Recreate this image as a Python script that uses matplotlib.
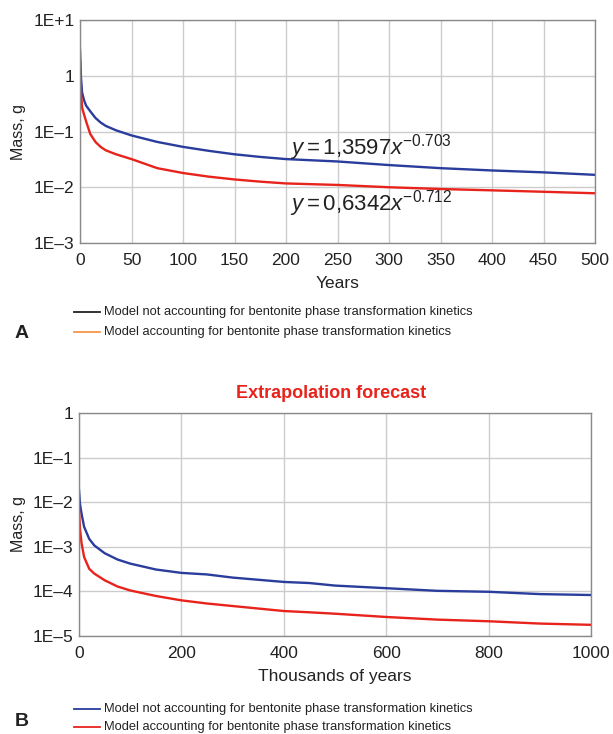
import matplotlib
matplotlib.use("Agg")
import matplotlib.pyplot as plt
from matplotlib.lines import Line2D
from matplotlib.ticker import FixedLocator, FixedFormatter, NullLocator

plt.rcParams['font.family'] = ['Liberation Sans', 'DejaVu Sans']
plt.rcParams['mathtext.fontset'] = 'custom'
plt.rcParams['mathtext.rm'] = 'Liberation Sans'
plt.rcParams['mathtext.it'] = 'Liberation Sans:italic'

# ---- Panel A data (years) ----
years_a = [0, 0.5, 1, 2, 4, 6, 10, 15, 20, 25, 35, 50, 75, 100, 125, 150, 175, 200,
           250, 300, 350, 400, 450, 500]
mass_a_no_kin = [2.9, 1.5, 0.9, 0.5, 0.36, 0.29, 0.23, 0.175, 0.145, 0.126, 0.105, 0.085,
                 0.065, 0.053, 0.045, 0.039, 0.035, 0.032, 0.029, 0.025, 0.022, 0.020,
                 0.0185, 0.0167]
mass_a_kin = [1.9, 1.0, 0.5, 0.27, 0.2, 0.15, 0.09, 0.065, 0.053, 0.046, 0.039, 0.032,
              0.022, 0.018, 0.0155, 0.0138, 0.0126, 0.0117, 0.011, 0.010, 0.0093, 0.0088,
              0.0083, 0.0078]
eq_no_kin = r"$y = 1{,}3597x^{-0.703}$"
eq_kin = r"$y = 0{,}6342x^{-0.712}$"

# ---- Panel B data (thousands of years) ----
kyears_b = [0, 2, 5, 10, 20, 30, 50, 75, 100, 150, 200, 250, 300, 400, 450, 500, 600,
            700, 800, 900, 1000]
mass_b_no_kin = [0.0185, 0.009, 0.0055, 0.0028, 0.0015, 0.00107, 0.00072, 0.00052, 0.00042,
                 0.00031, 0.00026, 0.00024, 0.000204, 0.000163, 0.000154, 0.000135,
                 0.000118, 0.000103, 0.000098, 0.000087, 0.000083]
mass_b_kin = [0.0066, 0.0025, 0.0012, 0.00059, 0.00032, 0.00025, 0.000178, 0.000129,
              0.000105, 0.000079, 0.000063, 0.0000535, 0.000047, 0.0000363, 0.000034,
              0.0000316, 0.0000267, 0.0000233, 0.0000214, 0.000019, 0.0000178]

yticks_a = [10, 1, 0.1, 0.01, 0.001]
yticklabels_a = ["1E+1", "1", "1E\u20131", "1E\u20132", "1E\u20133"]
xticks_a = [0, 50, 100, 150, 200, 250, 300, 350, 400, 450, 500]
yticks_b = [1, 0.1, 0.01, 0.001, 0.0001, 0.00001]
yticklabels_b = ["1", "1E\u20131", "1E\u20132", "1E\u20133", "1E\u20134", "1E\u20135"]
xticks_b = [0, 200, 400, 600, 800, 1000]

legend_labels = ["Model not accounting for bentonite phase transformation kinetics",
                 "Model accounting for bentonite phase transformation kinetics"]

BLUE = "#2a3c9c"
RED = "#e8231c"
GRID = "#cccccc"
SPINE = "#8a8a8a"
TXT = "#222222"

fig = plt.figure(figsize=(6.13, 7.34), dpi=100)
W, H = 613, 734


def style_axes(ax, xticks, yticks, yticklabels, xlim, ylim):
    ax.set_yscale('log')
    ax.set_xlim(*xlim)
    ax.set_ylim(*ylim)
    ax.yaxis.set_major_locator(FixedLocator(yticks))
    ax.yaxis.set_major_formatter(FixedFormatter(yticklabels))
    ax.yaxis.set_minor_locator(NullLocator())
    ax.set_xticks(xticks)
    ax.grid(True, color=GRID, linewidth=1.0)
    ax.set_axisbelow(True)
    for s in ax.spines.values():
        s.set_color(SPINE)
        s.set_linewidth(1.0)
    ax.tick_params(length=0, labelsize=12.5, colors=TXT)
    ax.tick_params(axis='x', pad=7)
    ax.tick_params(axis='y', pad=4)


# Panel A
axA = fig.add_axes([80 / W, 1 - 243 / H, 515 / W, 223 / H])
style_axes(axA, xticks_a, yticks_a, yticklabels_a, (0, 500), (0.001, 10))
axA.plot(years_a, mass_a_no_kin, color=BLUE, lw=1.7)
axA.plot(years_a, mass_a_kin, color=RED, lw=1.7)
axA.set_xlabel("Years", fontsize=12.5, color=TXT, labelpad=6)
axA.set_ylabel("Mass, g", fontsize=11.5, color=TXT, labelpad=5)
axA.text(204, 0.039, eq_no_kin, fontsize=16, color=TXT)
axA.text(204, 0.0039, eq_kin, fontsize=16, color=TXT)

# Panel B
axB = fig.add_axes([79 / W, 1 - 636 / H, 512 / W, 223 / H])
style_axes(axB, xticks_b, yticks_b, yticklabels_b, (0, 1000), (0.00001, 1))
axB.plot(kyears_b, mass_b_no_kin, color=BLUE, lw=1.7)
axB.plot(kyears_b, mass_b_kin, color=RED, lw=1.7)
axB.set_xlabel("Thousands of years", fontsize=12.5, color=TXT, labelpad=6)
axB.set_ylabel("Mass, g", fontsize=11.5, color=TXT, labelpad=5)
fig.text(331 / W, 1 - 393 / H, "Extrapolation forecast", color=RED, fontsize=13,
         fontweight='bold', ha='center', va='center')

# Legends
def add_legend(y1, y2, c1, c2):
    for yy, col, lab in [(y1, c1, legend_labels[0]), (y2, c2, legend_labels[1])]:
        fig.add_artist(Line2D([74 / W, 100 / W], [1 - yy / H, 1 - yy / H], color=col,
                              lw=1.3, transform=fig.transFigure))
        fig.text(104 / W, 1 - yy / H, lab, fontsize=9.3, color=TXT, va='center',
                 ha='left')


add_legend(312, 332, "#222222", "#f4974a")
add_legend(709, 727, BLUE, RED)

fig.text(15 / W, 1 - 333 / H, "A", fontsize=14, fontweight='bold', color=TXT,
         va='center')
fig.text(15 / W, 1 - 722 / H, "B", fontsize=14, fontweight='bold', color=TXT,
         va='center')

fig.savefig("out.png", dpi=100)
